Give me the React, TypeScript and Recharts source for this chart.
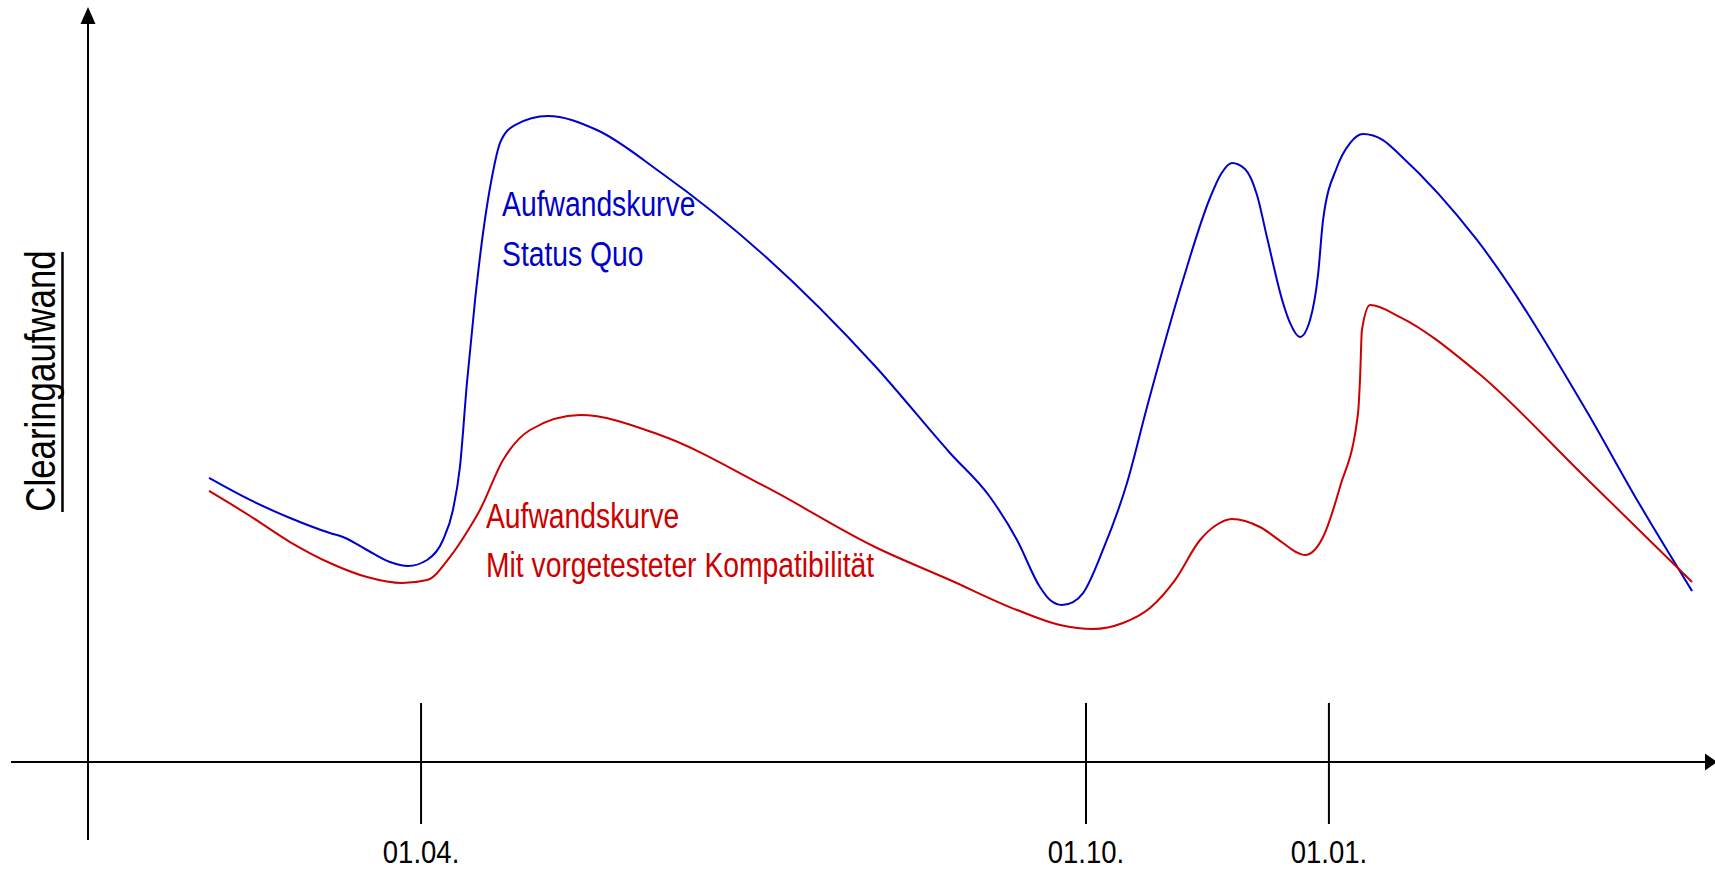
import React from "react";
import { LineChart, Line, XAxis, YAxis, ReferenceLine, ReferenceDot } from "recharts";

// Abstract time units (0 = y-axis) and effort units (0 = x-axis)
const statusQuoX = [7.44, 9.96, 12.42, 14.87, 15.67, 17.15, 18.56, 19.67, 20.84, 21.82, 22.43, 22.86, 23.29, 23.79, 24.28, 24.83, 25.32, 26.24, 28.27, 31.28, 35.16, 41.67, 48.37, 52.98, 55.44, 57.1, 58.51, 59.13, 59.86, 60.54, 61.16, 62.38, 63.86, 65.09, 67.3, 68.96, 69.64, 70.31, 71.11, 71.85, 72.46, 73.45, 73.88, 74.49, 75.11, 75.6, 75.91, 76.77, 77.57, 78.37, 79.59, 80.64, 85.37, 92.07, 95.21, 98.59];
const statusQuoY = [37.82, 34.89, 32.49, 30.49, 29.96, 28.23, 26.63, 26.1, 26.9, 29.56, 33.56, 39.28, 50.47, 61.52, 70.44, 77.9, 82.42, 84.82, 86.02, 84.15, 78.56, 67.24, 52.73, 41.15, 35.29, 29.56, 23.3, 21.57, 20.91, 21.3, 22.5, 28.23, 37.15, 47.27, 64.18, 75.1, 78.3, 79.76, 78.96, 75.5, 69.91, 61.12, 58.46, 56.59, 58.85, 64.85, 72.17, 79.23, 82.42, 83.62, 82.82, 80.83, 69.51, 46.87, 34.89, 22.77];

const compatX = [7.44, 9.96, 12.42, 14.87, 17.15, 19.3, 20.84, 22.25, 23.48, 24.09, 25.51, 27.17, 30.24, 35.16, 41.67, 48.37, 52.98, 57.1, 59.74, 61.77, 63.61, 65.27, 66.81, 68.35, 69.26, 70.31, 72.03, 73.45, 74.25, 74.8, 75.39, 75.91, 76.95, 78.06, 78.18, 78.3, 78.8, 80.64, 85.37, 92.07, 98.59];
const compatY = [36.09, 32.76, 29.29, 26.5, 24.63, 23.83, 24.23, 27.3, 31.29, 33.56, 40.21, 44.21, 46.2, 43.54, 36.62, 28.63, 24.23, 20.24, 18.24, 17.71, 18.51, 20.51, 24.23, 29.56, 31.42, 32.36, 31.29, 29.16, 27.96, 27.56, 28.23, 29.96, 36.62, 46.47, 50.87, 57.52, 60.85, 59.25, 51.93, 37.82, 23.97];

const tickValues = [20.47, 61.34, 76.27];
const tickLabels = ["01.04.", "01.10.", "01.01."];

const xDomain: [number, number] = [-4.733, 100];
const yDomain: [number, number] = [-10.386, 100.533];

const statusQuoData = statusQuoX.map((x, i) => ({ x, y: statusQuoY[i] }));
const compatData = compatX.map((x, i) => ({ x, y: compatY[i] }));

const FONT = '"Liberation Sans", Arial, sans-serif';
const NARROW = 0.82;
const BLUE = "#0000CC";
const RED = "#CC0000";

const ArrowUp = (p: any) => {
  const { x1, y1, x2, y2 } = p;
  return (
    <g>
      <line x1={x1} y1={y1} x2={x2} y2={y2 + 14} stroke="#000" strokeWidth={2} />
      <polygon points={`${x2},${y2} ${x2 - 7.5},${y2 + 17} ${x2 + 7.5},${y2 + 17}`} fill="#000" />
    </g>
  );
};

const ArrowRight = (p: any) => {
  const { x1, y1, x2, y2 } = p;
  return (
    <g>
      <line x1={x1} y1={y1} x2={x2 - 8} y2={y2} stroke="#000" strokeWidth={2} />
      <polygon points={`${x2 + 2},${y2} ${x2 - 10},${y2 - 8.5} ${x2 - 10},${y2 + 8.5}`} fill="#000" />
    </g>
  );
};

const TickLabel = (p: any) => {
  const idx = tickValues.indexOf(p.payload.value);
  return (
    <text
      x={0}
      y={0}
      transform={`translate(${p.x},${p.y + 21}) scale(0.86,1)`}
      textAnchor="middle"
      fontSize={32}
      fontFamily={FONT}
      fill="#000"
    >
      {tickLabels[idx] ?? ""}
    </text>
  );
};

const textShape = (lines: string[], color: string, gap: number) => (p: any) => (
  <g transform={`translate(${p.cx},${p.cy}) scale(${NARROW},1)`}>
    {lines.map((t, i) => (
      <text key={i} x={0} y={i * gap} fill={color} fontSize={34.5} fontFamily={FONT} textAnchor="start">
        {t}
      </text>
    ))}
  </g>
);

const yLabelShape = (p: any) => (
  <g>
    <text
      x={0}
      y={0}
      transform={`translate(${p.cx},${p.cy}) rotate(-90) scale(${NARROW},1)`}
      textAnchor="middle"
      fontSize={42.5}
      fontFamily={FONT}
      fill="#000"
    >
      Clearingaufwand
    </text>
    <line x1={p.cx + 7.5} y1={p.cy - 129} x2={p.cx + 7.5} y2={p.cy + 131} stroke="#000" strokeWidth={2.5} />
  </g>
);

export default function App() {
  return (
    <div style={{ position: "absolute", left: 0, top: 0, width: 1715, height: 870, background: "#fff" }}>
      <LineChart width={1715} height={870} margin={{ top: 7, right: 0, bottom: 0, left: 11 }}>
        <XAxis
          dataKey="x"
          type="number"
          domain={xDomain}
          allowDataOverflow
          ticks={tickValues}
          interval={0}
          axisLine={false}
          tickLine={false}
          tickSize={0}
          tickMargin={2}
          height={30}
          tick={TickLabel}
        />
        <YAxis type="number" domain={yDomain} allowDataOverflow hide />
        <ReferenceLine segment={[{ x: 0, y: yDomain[0] }, { x: 0, y: yDomain[1] }]} shape={ArrowUp} />
        <ReferenceLine segment={[{ x: xDomain[0], y: 0 }, { x: xDomain[1], y: 0 }]} shape={ArrowRight} />
        {tickValues.map((t) => (
          <ReferenceLine key={t} segment={[{ x: t, y: 7.86 }, { x: t, y: -8.26 }]} stroke="#000" strokeWidth={2} />
        ))}
        <Line data={statusQuoData} dataKey="y" type="monotone" stroke={BLUE} strokeWidth={2} dot={false} isAnimationActive={false} />
        <Line data={compatData} dataKey="y" type="monotone" stroke={RED} strokeWidth={2} dot={false} isAnimationActive={false} />
        <ReferenceDot x={25.45} y={72.7} r={0} shape={textShape(["Aufwandskurve", "Status Quo"], BLUE, 50)} />
        <ReferenceDot x={24.46} y={31.16} r={0} shape={textShape(["Aufwandskurve", "Mit vorgetesteter Kompatibilität"], RED, 49)} />
        <ReferenceDot x={-2.03} y={50.73} r={0} shape={yLabelShape} />
      </LineChart>
    </div>
  );
}
